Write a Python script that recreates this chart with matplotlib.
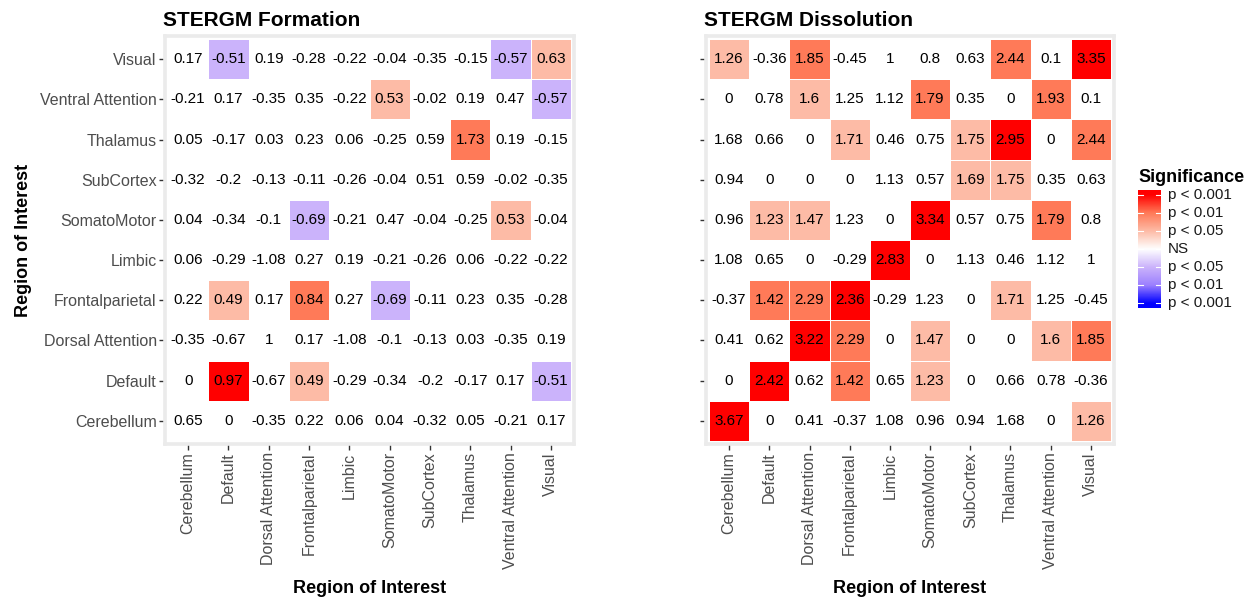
import numpy as np
import matplotlib
matplotlib.use("Agg")
import matplotlib.pyplot as plt
from matplotlib.colors import ListedColormap, BoundaryNorm, LinearSegmentedColormap

plt.rcParams['font.family'] = ['Liberation Sans', 'DejaVu Sans']

regions = ["Cerebellum", "Default", "Dorsal Attention", "Frontalparietal", "Limbic",
           "SomatoMotor", "SubCortex", "Thalamus", "Ventral Attention", "Visual"]

# rows listed top (Visual) to bottom (Cerebellum)
formation_values = [
    [0.17, -0.51, 0.19, -0.28, -0.22, -0.04, -0.35, -0.15, -0.57, 0.63],
    [-0.21, 0.17, -0.35, 0.35, -0.22, 0.53, -0.02, 0.19, 0.47, -0.57],
    [0.05, -0.17, 0.03, 0.23, 0.06, -0.25, 0.59, 1.73, 0.19, -0.15],
    [-0.32, -0.2, -0.13, -0.11, -0.26, -0.04, 0.51, 0.59, -0.02, -0.35],
    [0.04, -0.34, -0.1, -0.69, -0.21, 0.47, -0.04, -0.25, 0.53, -0.04],
    [0.06, -0.29, -1.08, 0.27, 0.19, -0.21, -0.26, 0.06, -0.22, -0.22],
    [0.22, 0.49, 0.17, 0.84, 0.27, -0.69, -0.11, 0.23, 0.35, -0.28],
    [-0.35, -0.67, 1, 0.17, -1.08, -0.1, -0.13, 0.03, -0.35, 0.19],
    [0, 0.97, -0.67, 0.49, -0.29, -0.34, -0.2, -0.17, 0.17, -0.51],
    [0.65, 0, -0.35, 0.22, 0.06, 0.04, -0.32, 0.05, -0.21, 0.17],
]
formation_sig = [
    [0, -1, 0, 0, 0, 0, 0, 0, -1, 1],
    [0, 0, 0, 0, 0, 1, 0, 0, 0, -1],
    [0, 0, 0, 0, 0, 0, 0, 2, 0, 0],
    [0, 0, 0, 0, 0, 0, 0, 0, 0, 0],
    [0, 0, 0, -1, 0, 0, 0, 0, 1, 0],
    [0, 0, 0, 0, 0, 0, 0, 0, 0, 0],
    [0, 1, 0, 2, 0, -1, 0, 0, 0, 0],
    [0, 0, 0, 0, 0, 0, 0, 0, 0, 0],
    [0, 3, 0, 1, 0, 0, 0, 0, 0, -1],
    [0, 0, 0, 0, 0, 0, 0, 0, 0, 0],
]
dissolution_values = [
    [1.26, -0.36, 1.85, -0.45, 1, 0.8, 0.63, 2.44, 0.1, 3.35],
    [0, 0.78, 1.6, 1.25, 1.12, 1.79, 0.35, 0, 1.93, 0.1],
    [1.68, 0.66, 0, 1.71, 0.46, 0.75, 1.75, 2.95, 0, 2.44],
    [0.94, 0, 0, 0, 1.13, 0.57, 1.69, 1.75, 0.35, 0.63],
    [0.96, 1.23, 1.47, 1.23, 0, 3.34, 0.57, 0.75, 1.79, 0.8],
    [1.08, 0.65, 0, -0.29, 2.83, 0, 1.13, 0.46, 1.12, 1],
    [-0.37, 1.42, 2.29, 2.36, -0.29, 1.23, 0, 1.71, 1.25, -0.45],
    [0.41, 0.62, 3.22, 2.29, 0, 1.47, 0, 0, 1.6, 1.85],
    [0, 2.42, 0.62, 1.42, 0.65, 1.23, 0, 0.66, 0.78, -0.36],
    [3.67, 0, 0.41, -0.37, 1.08, 0.96, 0.94, 1.68, 0, 1.26],
]
dissolution_sig = [
    [1, 0, 2, 0, 0, 0, 0, 2, 0, 3],
    [0, 0, 1, 0, 0, 2, 0, 0, 2, 0],
    [0, 0, 0, 1, 0, 0, 1, 3, 0, 2],
    [0, 0, 0, 0, 0, 0, 1, 1, 0, 0],
    [0, 1, 1, 0, 0, 3, 0, 0, 2, 0],
    [0, 0, 0, 0, 3, 0, 0, 0, 0, 0],
    [0, 2, 2, 3, 0, 0, 0, 1, 0, 0],
    [0, 0, 3, 2, 0, 1, 0, 0, 1, 2],
    [0, 3, 0, 2, 0, 1, 0, 0, 0, 0],
    [3, 0, 0, 0, 0, 0, 0, 0, 0, 1],
]
legend_labels = ["p < 0.001", "p < 0.01", "p < 0.05", "NS", "p < 0.05", "p < 0.01", "p < 0.001"]
legend_levels = [3, 2, 1, 0, -1, -2, -3]

level_colors = ['#0000FF', '#9C80FF', '#CBB3FB', '#FFFFFF', '#FDBBA6', '#FF7A58', '#FF0000']
cmap = ListedColormap(level_colors)
norm = BoundaryNorm(np.arange(-3.5, 4.5, 1), cmap.N)

fig = plt.figure(figsize=(12.55, 5.99), dpi=100)
W, H = 1255, 599

def fig_rect(x0, y0, x1, y1):
    return [x0 / W, 1 - y1 / H, (x1 - x0) / W, (y1 - y0) / H]

tick_color = '#4D4D4D'
frame_color = '#EBEBEB'

def draw_panel(rect, values, sig, title, show_ylabels):
    ax = fig.add_axes(rect)
    vals = np.array(values)[::-1]
    s = np.array(sig)[::-1]
    n = len(regions)
    x = np.arange(n + 1) - 0.5
    ax.pcolormesh(x, x, s, cmap=cmap, norm=norm, edgecolors='white', linewidth=0.6)
    for i in range(n):
        for j in range(n):
            v = vals[i, j]
            txt = ('%g' % v)
            ax.text(j, i, txt, ha='center', va='center', fontsize=11, color='black')
    pad = 0.075
    ax.set_xlim(-0.5 - pad, n - 0.5 + pad)
    ax.set_ylim(-0.5 - pad, n - 0.5 + pad)
    ax.set_xticks(np.arange(n))
    ax.set_yticks(np.arange(n))
    ax.set_xticklabels(regions, rotation=90, fontsize=11.5, color=tick_color)
    if show_ylabels:
        ax.set_yticklabels(regions, fontsize=11.5, color=tick_color)
        ax.set_ylabel("Region of Interest", fontsize=13, fontweight='bold', labelpad=6)
    else:
        ax.set_yticklabels([])
    ax.tick_params(length=4, width=1, color='#333333', pad=2)
    for sp in ax.spines.values():
        sp.set_color(frame_color)
        sp.set_linewidth(2.6)
    ax.set_xlabel("Region of Interest", fontsize=13, fontweight='bold', labelpad=8)
    ax.set_title(title, loc='left', fontsize=15, fontweight='bold', pad=7, x=-0.005)
    return ax

draw_panel(fig_rect(165, 36, 574, 444), formation_values, formation_sig, "STERGM Formation", True)
draw_panel(fig_rect(706, 36, 1114, 444), dissolution_values, dissolution_sig, "STERGM Dissolution", False)

# Legend colorbar
cax = fig.add_axes(fig_rect(1138, 190, 1161, 308))
grad_cmap = LinearSegmentedColormap.from_list('sig', level_colors)
lim = 3.25
grad = np.linspace(-lim, lim, 300).reshape(-1, 1)
cax.imshow(grad, aspect='auto', cmap=grad_cmap, vmin=-3, vmax=3, origin='lower',
           extent=[0, 1, -lim, lim])
cax.set_xlim(0, 1)
cax.set_ylim(-lim, lim)
cax.set_xticks([])
cax.set_yticks([])
for sp in cax.spines.values():
    sp.set_visible(False)
for lvl, lab in zip(legend_levels, legend_labels):
    cax.plot([0, 0.2], [lvl, lvl], color='white', lw=0.8)
    cax.plot([0.8, 1], [lvl, lvl], color='white', lw=0.8)
    cax.text(1.3, lvl, lab, ha='left', va='center', fontsize=11, color='#1A1A1A',
             transform=cax.transData, clip_on=False)
fig.text(1138 / W, 1 - 178 / H, "Significance", ha='left', va='center', fontsize=13,
         fontweight='bold')

fig.savefig("out.png", dpi=100)
